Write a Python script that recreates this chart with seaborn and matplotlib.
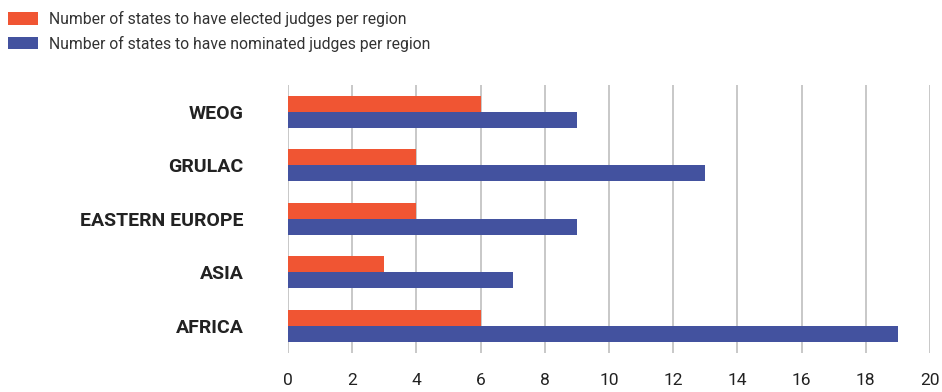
import matplotlib
matplotlib.use("Agg")
import matplotlib.pyplot as plt
import seaborn as sns
import pandas as pd
from matplotlib.patches import Patch

regions = ["WEOG", "GRULAC", "EASTERN EUROPE", "ASIA", "AFRICA"]
elected = [6, 4, 4, 3, 6]
nominated = [9, 13, 9, 7, 19]
series_labels = ["Number of states to have elected judges per region",
                 "Number of states to have nominated judges per region"]
colors = ["#F05533", "#43529F"]
xticks = list(range(0, 21, 2))

df = pd.DataFrame({
    "region": regions * 2,
    "value": elected + nominated,
    "series": [series_labels[0]] * len(regions) + [series_labels[1]] * len(regions),
})

sns.set_theme(style="white")
plt.rcParams["font.family"] = ["Roboto", "DejaVu Sans"]

fig = plt.figure(figsize=(9.42, 3.92), dpi=100)
ax = fig.add_axes([288 / 942, 1 - 352.5 / 392, (930 - 288) / 942, 267.5 / 392])

sns.barplot(data=df, y="region", x="value", hue="series", order=regions,
            hue_order=series_labels, palette=colors, width=0.6,
            saturation=1, orient="h", ax=ax, legend=False, zorder=3,
            linewidth=0, edgecolor="none")

ax.set_xlim(0, 20)
ax.set_ylim(4.5, -0.5)
ax.set_xticks(xticks)
ax.set_xticklabels([str(t) for t in xticks], fontsize=12.5, color="#222222")
ax.xaxis.grid(True, color="#C4C4C4", linewidth=1.3, zorder=0)
ax.yaxis.grid(False)
ax.set_axisbelow(True)
ax.tick_params(axis="x", length=0, pad=15)
ax.tick_params(axis="y", length=0, pad=32)
for lbl in ax.get_yticklabels():
    lbl.set_fontweight("bold")
    lbl.set_fontsize(14)
    lbl.set_color("#222222")
ax.set_xlabel("")
ax.set_ylabel("")
for s in ax.spines.values():
    s.set_visible(False)

handles = [Patch(facecolor=c, edgecolor="none") for c in colors]
fig.legend(handles, series_labels, loc="upper left", bbox_to_anchor=(-0.003, 1.0),
           frameon=False, fontsize=11.3, handlelength=1.9, handleheight=0.85,
           handletextpad=0.7, labelspacing=0.55, borderaxespad=0.3,
           labelcolor="#333333")

fig.savefig("out.png", dpi=100)
